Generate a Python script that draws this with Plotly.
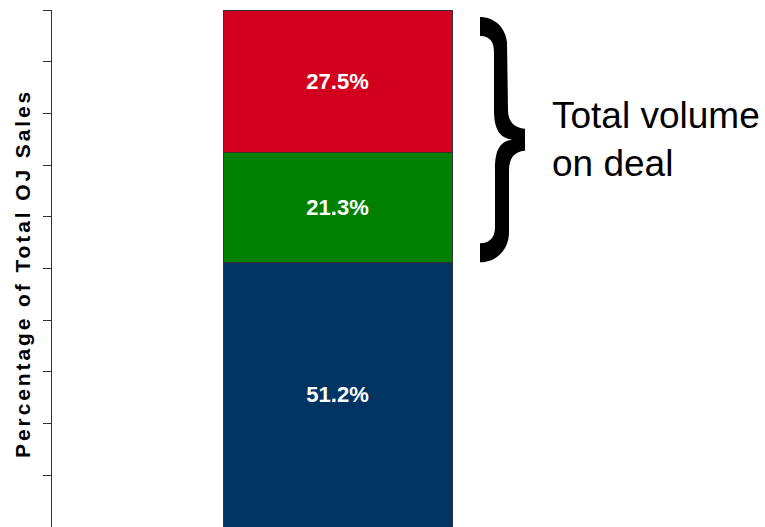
import plotly.graph_objects as go

# ---------------- data ----------------
category = ["OJ sales"]
segment_names = ["Not on deal", "On deal (A)", "On deal (B)"]
segment_values = [51.2, 21.3, 27.5]          # percent of total OJ sales, bottom -> top
segment_colors = ["#003462", "#008000", "#D2001E"]
y_tick_values = [10, 20, 30, 40, 50, 60, 70, 80, 90, 100]
y_title = "Percentage of Total OJ Sales"
brace_label = "Total volume<br>on deal"

# ---------------- geometry ----------------
W, H = 765, 527
ML, MR, MT, MB = 52, 0, 10, 0
PW, PH = W - ML - MR, H - MT - MB
FONT = "Liberation Sans, Arial, Helvetica, sans-serif"

def y2px(v):
    return MT + (100 - v) * PH / 100.0

def px2paper(x, y):
    return (x - ML) / PW, (H - MB - y) / PH

fig = go.Figure()
for name, val, col in zip(segment_names, segment_values, segment_colors):
    fig.add_trace(go.Bar(
        x=category, y=[val], name=name, width=1,
        marker=dict(color=col, line=dict(color="#333333", width=1)),
        text=[f"{val:.1f}%"], textposition="inside", insidetextanchor="middle",
        textangle=0, constraintext="none",
        textfont=dict(family=FONT, size=22, color="white", weight="bold"),
        hoverinfo="skip", showlegend=False,
    ))

# bar centre at px 337.5, bar width 229 px
bar_w_px = 229.0
center_px = 337.5
x_lo = -(center_px - ML) / bar_w_px
x_hi = (W - MR - center_px) / bar_w_px

# ---------------- brace (decoration spanning the on-deal segments) ----------------
total = sum(segment_values)
T = y2px(total) + 7
B = y2px(segment_values[0])
M = (T + B) / 2
X0 = 480
pts = [
    ("M", [(X0, T)]),
    ("C", [(X0 + 12, T), (X0 + 25, T + 8), (X0 + 27, T + 25)]),
    ("L", [(X0 + 28, M - 30)]),
    ("C", [(X0 + 28, M - 18), (X0 + 34, M - 12), (X0 + 45, M - 11)]),
    ("L", [(X0 + 45, M + 11)]),
    ("C", [(X0 + 34, M + 12), (X0 + 29, M + 18), (X0 + 29, M + 32)]),
    ("L", [(X0 + 29, B - 30)]),
    ("C", [(X0 + 29, B - 12), (X0 + 16, B), (X0, B)]),
    ("L", [(X0, B - 19)]),
    ("C", [(X0 + 10, B - 19), (X0 + 15, B - 25), (X0 + 15, B - 35)]),
    ("L", [(X0 + 15, M + 30)]),
    ("C", [(X0 + 15, M + 10), (X0 + 20, M + 2), (X0 + 32, M)]),
    ("C", [(X0 + 20, M - 2), (X0 + 14, M - 10), (X0 + 14, M - 30)]),
    ("L", [(X0 + 14, T + 35)]),
    ("C", [(X0 + 14, T + 25), (X0 + 10, T + 19), (X0, T + 19)]),
]
path = ""
for cmd, ps in pts:
    path += cmd + " " + " ".join("%.5f,%.5f" % px2paper(x, y) for x, y in ps) + " "
path += "Z"
fig.add_shape(type="path", path=path, xref="paper", yref="paper",
              fillcolor="black", line=dict(width=0), layer="above")

# ---------------- annotations ----------------
tx, ty = px2paper(22, 273.3)
fig.add_annotation(text=y_title, xref="paper", yref="paper", x=tx, y=ty,
                   xanchor="center", yanchor="middle", textangle=-90, showarrow=False,
                   font=dict(family=FONT, size=21, color="black", weight="bold"))
lx, ly = px2paper(550, 139)
fig.add_annotation(text=brace_label, xref="paper", yref="paper", x=lx, y=ly,
                   xanchor="left", yanchor="middle", align="left", showarrow=False,
                   font=dict(family=FONT, size=37, color="black"))

fig.update_layout(
    width=W, height=H, barmode="stack",
    margin=dict(l=ML, r=MR, t=MT, b=MB, pad=0),
    paper_bgcolor="white", plot_bgcolor="white",
    xaxis=dict(type="category", range=[x_lo, x_hi], showticklabels=False, showgrid=False,
               zeroline=False, showline=False, ticks=""),
    yaxis=dict(range=[0, 100], tickvals=y_tick_values, showticklabels=False, showgrid=False,
               zeroline=False, showline=True, linecolor="#333333", linewidth=1,
               ticks="outside", ticklen=8, tickcolor="#333333", tickwidth=1),
)

post = ("document.body.style.margin='0';"
        "var t=document.querySelector('.annotation[data-index=\"0\"] .annotation-text');"
        "if(t){t.style.letterSpacing='2.9px';}")
fig.write_html("out.html", post_script=post, config={"displayModeBar": False})
